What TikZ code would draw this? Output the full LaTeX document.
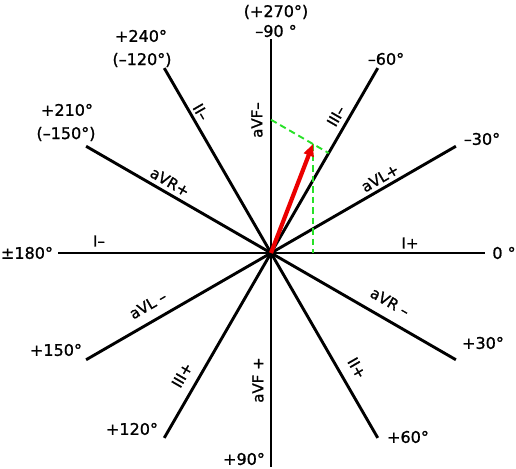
\documentclass[tikz,border=0pt]{standalone}
\usepackage{fontspec}
\setmainfont{DejaVu Sans}
\newfontfamily\lblfont{DejaVu Sans}[FakeBold=1.2]
\usetikzlibrary{arrows.meta,calc}
\definecolor{gdash}{RGB}{40,225,40}
\definecolor{vred}{RGB}{235,0,0}
\begin{document}
\begin{tikzpicture}[x=1pt,y=-1pt,
  axis/.style={line width=2.9pt},
  deg/.style={font=\lblfont\fontsize{16}{16}\selectfont, inner sep=0pt},
  lead/.style={font=\lblfont\fontsize{15}{15}\selectfont, inner sep=0pt},
  vec/.style={draw=vred, line width=4.2pt, -{Triangle[length=12pt,width=10pt]}},
  proj/.style={draw=gdash, line width=1.9pt, dash pattern=on 6.5pt off 4pt}]
\useasboundingbox (0,0) rectangle (516,468);
\coordinate (C) at (271,253);
\foreach \a in {0,30,...,330} \coordinate (e\a) at ($(C)+(\a:213.5)$);
% axes
\draw[axis] (e0) -- (e180);
\draw[axis] (e30) -- (e210);
\draw[axis] (e60) -- (e240);
\draw[axis] (e90) -- (e270);
\draw[axis] (e120) -- (e300);
\draw[axis] (e150) -- (e330);
\fill (C) circle (4);
% projections
\coordinate (T) at (313,144);
\coordinate (P1) at ($(C)!(T)!(e0)$);
\coordinate (P3) at ($(C)!(T)!(e300)$);
\coordinate (Q) at (intersection of T--P3 and C--e270);
\draw[proj] (T) -- (P1);
\draw[proj] (Q) -- (P3);
\draw[vec] (C) -- (T);
% degree labels
\node[deg] (d270) at (276,12) {(+270°)};
\node[deg] (dm90) at (276,31) {–90 °};
\node[deg] (dm60) at (386,59) {–60°};
\node[deg] (dm30) at (482,139) {–30°};
\node[deg] (d0) at (504,253) {0 °};
\node[deg] (d30) at (483,343) {+30°};
\node[deg] (d60) at (408,437) {+60°};
\node[deg] (d90) at (244,459) {+90°};
\node[deg] (d120) at (132,429) {+120°};
\node[deg] (d150) at (56,350) {+150°};
\node[deg] (d180) at (27,253) {±180°};
\node[deg] (d210) at (67,110) {+210°};
\node[deg] (dm150) at (66,134) {(–150°)};
\node[deg] (d240) at (141,36) {+240°};
\node[deg] (dm120) at (142,60) {(–120°)};
% lead labels
\node[lead] (lIp) at (410,243) {I+};
\node[lead] (lIm) at (99,241) {I–};
\node[lead, rotate=90] (lFm) at (257,120) {aVF–};
\node[lead, rotate=90] (lFp) at (258,380) {aVF +};
\node[lead, rotate=60] (lIIIm) at (336,116) {III–};
\node[lead, rotate=60] (lIIIp) at (182,375) {III+};
\node[lead, rotate=-60] (lIIm) at (201,112) {II–};
\node[lead, rotate=-60] (lIIp) at (357,368) {II+};
\node[lead, rotate=30] (lLp) at (380,178) {aVL+};
\node[lead, rotate=30] (lLm) at (148,305) {aVL –};
\node[lead, rotate=-30] (lRp) at (170,182) {aVR+};
\node[lead, rotate=-30] (lRm) at (390,302) {aVR –};
\end{tikzpicture}
\end{document}
